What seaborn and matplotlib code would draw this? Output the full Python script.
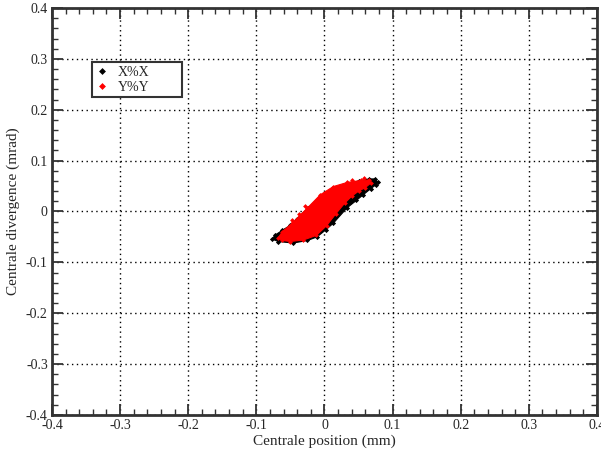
import matplotlib
matplotlib.use("Agg")
import matplotlib.pyplot as plt
from matplotlib.lines import Line2D
from matplotlib.ticker import MultipleLocator
import seaborn as sns
import pandas as pd

# Envelope of the X%X phase-space cloud (position mm, divergence mrad)
xx_pos = [-0.077, -0.068, -0.046, -0.025, -0.011, 0.002, 0.013, 0.033, 0.047,
          0.057, 0.068, 0.076, 0.078, 0.074, 0.066, 0.050, 0.030, 0.010,
          -0.010, -0.024, -0.040, -0.050, -0.062, -0.072]
xx_div = [-0.054, -0.059, -0.062, -0.057, -0.050, -0.036, -0.023, 0.007, 0.022,
          0.033, 0.045, 0.053, 0.058, 0.064, 0.064, 0.060, 0.052, 0.040,
          0.022, 0.007, -0.014, -0.027, -0.037, -0.046]

# Envelope of the Y%Y phase-space cloud
yy_pos = [-0.068, -0.062, -0.046, -0.025, -0.006, 0.013, 0.033, 0.053, 0.065,
          0.068, 0.060, 0.050, 0.040, 0.030, 0.017, 0.003, -0.012, -0.031,
          -0.050, -0.062]
yy_div = [-0.052, -0.040, -0.021, 0.007, 0.033, 0.049, 0.057, 0.061, 0.062,
          0.056, 0.047, 0.040, 0.030, 0.017, -0.004, -0.028, -0.047, -0.056,
          -0.059, -0.057]

# Isolated Y%Y particles outside the main envelope
yy_out_pos = [-0.028, -0.038, -0.047, -0.060, 0.040, 0.058]
yy_out_div = [0.010, -0.004, -0.017, -0.038, 0.062, 0.066]

series_names = ["X%X", "Y%Y"]
series_colors = ["black", "red"]

x_ticks = [-0.4, -0.3, -0.2, -0.1, 0, 0.1, 0.2, 0.3, 0.4]
y_ticks = [-0.4, -0.3, -0.2, -0.1, 0, 0.1, 0.2, 0.3, 0.4]

sns.set_theme(style="white")
plt.rcParams["font.family"] = ["Liberation Serif", "DejaVu Serif"]

fig = plt.figure(figsize=(6.01, 4.54), dpi=100)
ax = fig.add_axes([0.0865, 0.0859, 0.9068, 0.8965])

df_x = pd.DataFrame({"pos": xx_pos, "div": xx_div})
df_y = pd.DataFrame({"pos": yy_pos, "div": yy_div})
df_yo = pd.DataFrame({"pos": yy_out_pos, "div": yy_out_div})

# X%X cloud
ax.fill(df_x["pos"], df_x["div"], color=series_colors[0], lw=0.8,
        edgecolor=series_colors[0], zorder=3)
sns.scatterplot(data=df_x, x="pos", y="div", color=series_colors[0],
                marker="D", s=7, linewidth=0, ax=ax, zorder=3, legend=False)

# Y%Y cloud on top
ax.fill(df_y["pos"], df_y["div"], color=series_colors[1], lw=0.8,
        edgecolor=series_colors[1], zorder=4)
sns.scatterplot(data=df_y, x="pos", y="div", color=series_colors[1],
                marker="D", s=6, linewidth=0, ax=ax, zorder=4, legend=False)
sns.scatterplot(data=df_yo, x="pos", y="div", color=series_colors[1],
                marker="D", s=6, linewidth=0, ax=ax, zorder=4, legend=False)

ax.set_xlim(-0.4, 0.4)
ax.set_ylim(-0.4, 0.4)
ax.set_xticks(x_ticks)
ax.set_yticks(y_ticks)
ax.set_xticklabels([f"{v:g}" for v in x_ticks])
ax.set_yticklabels([f"{v:g}" for v in y_ticks])
ax.xaxis.set_minor_locator(MultipleLocator(0.02))
ax.yaxis.set_minor_locator(MultipleLocator(0.02))
ax.tick_params(which="both", direction="in", top=True, right=True,
               bottom=True, left=True, color="#333333", labelsize=10,
               pad=3)
ax.tick_params(which="major", length=8, width=1.3)
ax.tick_params(which="minor", length=4, width=1.0)

for s in ax.spines.values():
    s.set_color("#333333")
    s.set_linewidth(2)

ax.grid(True, which="major", color="black", linestyle=(0, (1, 2.5)),
        linewidth=1.0, zorder=1)
ax.set_axisbelow(True)

ax.set_xlabel("Centrale position (mm)", fontsize=11, labelpad=2)
ax.set_ylabel("Centrale divergence (mrad)", fontsize=11, labelpad=4)

handles = [Line2D([], [], linestyle="none", marker="D", markersize=3.5,
                  color=c, markeredgewidth=0) for c in series_colors]
leg = ax.legend(handles, series_names, loc="upper left",
                bbox_to_anchor=(0.073, 0.784, 0.166, 0.083), mode="expand",
                borderaxespad=0, fancybox=False, framealpha=1,
                edgecolor="#333333", fontsize=10, handlelength=1.0,
                handletextpad=0.6, borderpad=0.25, labelspacing=0.15)
leg.get_frame().set_linewidth(1.5)
leg.set_zorder(6)

fig.savefig("out.png", dpi=100)
